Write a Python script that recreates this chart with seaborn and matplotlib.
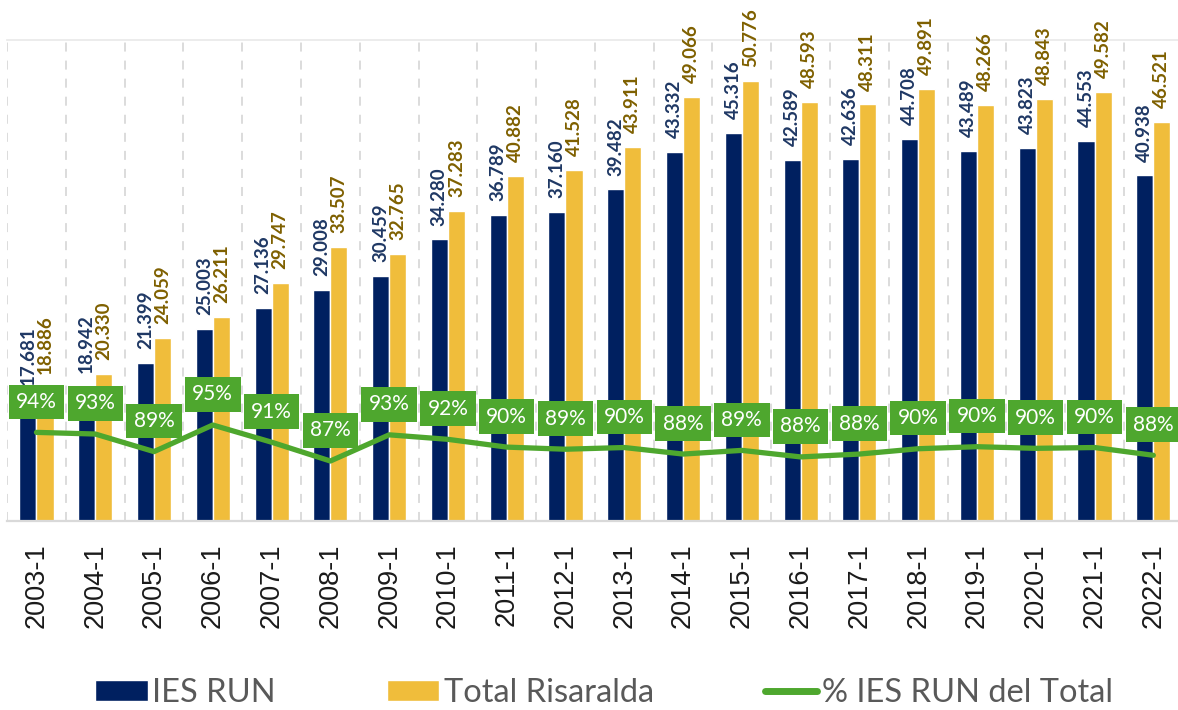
import matplotlib
matplotlib.use("Agg")
import matplotlib.pyplot as plt
from matplotlib.patches import Patch
from matplotlib.lines import Line2D
import seaborn as sns
import numpy as np
import pandas as pd

# data
periodos = ['2003-1', '2004-1', '2005-1', '2006-1', '2007-1', '2008-1', '2009-1',
            '2010-1', '2011-1', '2012-1', '2013-1', '2014-1', '2015-1', '2016-1',
            '2017-1', '2018-1', '2019-1', '2020-1', '2021-1', '2022-1']
ies_run = [17681, 18942, 21399, 25003, 27136, 29008, 30459, 34280, 36789, 37160,
           39482, 43332, 45316, 42589, 42636, 44708, 43489, 43823, 44553, 40938]
total_risaralda = [18886, 20330, 24059, 26211, 29747, 33507, 32765, 37283, 40882, 41528,
                   43911, 49066, 50776, 48593, 48311, 49891, 48266, 48843, 49582, 46521]
pct_ies = [0.936, 0.932, 0.889, 0.954, 0.912, 0.866, 0.930, 0.919, 0.900, 0.8948,
           0.899, 0.883, 0.892, 0.876, 0.883, 0.896, 0.901, 0.897, 0.899, 0.880]

NAVY = '#002060'
GOLD = '#F0BD3B'
GREEN = '#4EA72E'

df = pd.DataFrame({
    'periodo': periodos * 2,
    'valor': ies_run + total_risaralda,
    'serie': ['IES RUN'] * len(periodos) + ['Total Risaralda'] * len(periodos),
})

sns.set_style('white')
plt.rcParams['font.family'] = ['Lato', 'DejaVu Sans']

fig = plt.figure(figsize=(11.78, 7.10), dpi=100)
ax = fig.add_axes([0.006, 0.266, 0.998, 0.6775])

sns.barplot(data=df, x='periodo', y='valor', hue='serie', palette=[NAVY, GOLD],
            width=0.58, gap=0, saturation=1, ax=ax, legend=False)

fmt = lambda v: f"{v:,}".replace(',', '.')
ax.bar_label(ax.containers[0], labels=[fmt(v) for v in ies_run], rotation=90,
             padding=10, color='#1F3864', fontsize=13.5, fontweight='bold')
ax.bar_label(ax.containers[1], labels=[fmt(v) for v in total_risaralda], rotation=90,
             padding=10, color='#7F6000', fontsize=13.5, fontweight='bold')

ax.set_ylim(5000, 55000)
ax.set_xlim(-0.5, len(periodos) - 0.5)
ax.set_xlabel('')
ax.set_ylabel('')
ax.set_yticks([])

# category boundaries: dashed grid + small ticks
ax.set_xticks(np.arange(-0.5, len(periodos)), minor=True)
ax.grid(which='minor', axis='x', linestyle=(0, (5, 5)), color='#D9D9D9', linewidth=1.3)
ax.tick_params(axis='x', which='minor', length=7, color='#D9D9D9', width=1.3)
ax.tick_params(axis='x', which='major', length=0, pad=16)
for lbl in ax.get_xticklabels():
    lbl.set_rotation(90)
    lbl.set_fontfamily(['Liberation Sans'])
    lbl.set_fontsize(19.5)
    lbl.set_color('#1a1a1a')

for side in ['left', 'right']:
    ax.spines[side].set_visible(False)
ax.spines['bottom'].set_color('#D9D9D9')
ax.spines['bottom'].set_linewidth(1.6)
ax.spines['top'].set_color('#EBEBEB')
ax.spines['top'].set_linewidth(1.3)

# percentage line on secondary axis
ax2 = ax.twinx()
sns.lineplot(x=np.arange(len(periodos)), y=pct_ies, color=GREEN, linewidth=3.8,
             ax=ax2, solid_capstyle='round')
ax2.set_ylim(0.719, 1.895)
ax2.set_yticks([])
for side in ax2.spines:
    ax2.spines[side].set_visible(False)

for i, p in enumerate(pct_ies):
    ax2.annotate(f"{p:.0%}", xy=(i, p), xytext=(0, 22), textcoords='offset points',
                 ha='center', va='center', color='white', fontsize=15,
                 bbox=dict(boxstyle='square,pad=0.35', facecolor=GREEN, edgecolor='none'))

handles = [Patch(facecolor=NAVY, label='IES RUN'),
           Patch(facecolor=GOLD, label='Total Risaralda'),
           Line2D([0], [0], color=GREEN, linewidth=5, solid_capstyle='round',
                  label='% IES RUN del Total')]
fig.legend(handles=handles, loc='center', bbox_to_anchor=(0.513, 0.024), ncol=3,
           frameon=False, fontsize=23.5, labelcolor='#595959', handlelength=1.6,
           handleheight=0.6, handletextpad=0.15, columnspacing=3.4)

fig.savefig('out.png', dpi=100)
